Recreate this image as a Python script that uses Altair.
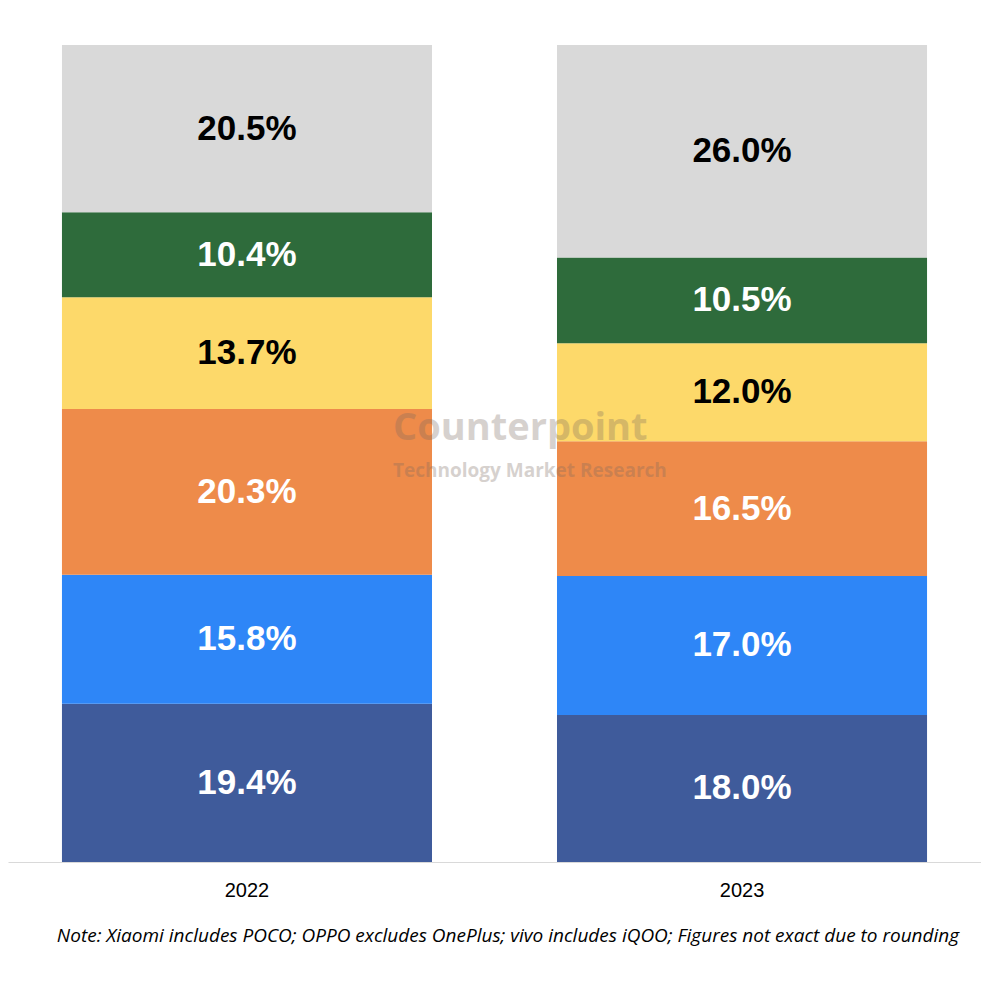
import altair as alt
import pandas as pd

years = ["2022", "2023"]
brands = ["Samsung", "Xiaomi", "vivo", "OPPO", "realme", "Others"]
share_2022 = [19.4, 15.8, 20.3, 13.7, 10.4, 20.5]
share_2023 = [18.0, 17.0, 16.5, 12.0, 10.5, 26.0]
colors = ["#3F5B9B", "#2E86F7", "#EE8B4A", "#FDD96A", "#2E6B3B", "#D9D9D9"]
text_colors = ["white", "white", "white", "black", "white", "black"]

rows = []
for year, vals in zip(years, [share_2022, share_2023]):
    for i, (b, v) in enumerate(zip(brands, vals)):
        rows.append({"year": year, "brand": b, "share": v, "order": i,
                     "label": f"{v:.1f}%", "tcolor": text_colors[i]})
df = pd.DataFrame(rows)

W, H = 973, 817

base = alt.Chart(df).transform_stack(
    stack="share", groupby=["year"], as_=["y0", "y1"],
    sort=[alt.SortField("order", order="ascending")], offset="normalize"
).transform_calculate(mid="(datum.y0 + datum.y1) / 2")

x = alt.X("year:N", title=None, scale=alt.Scale(paddingInner=0.2525, paddingOuter=0.109),
          axis=alt.Axis(labelAngle=0, labelFont="Liberation Sans", labelFontSize=20,
                        labelColor="#000", labelPadding=18, domainColor="#D9D9D9", ticks=False))

bars = base.mark_bar().encode(
    x=x,
    y=alt.Y("y0:Q", scale=alt.Scale(domain=[0, 1]), axis=None),
    y2="y1:Q",
    color=alt.Color("brand:N", scale=alt.Scale(domain=brands, range=colors), legend=None),
)

labels = base.mark_text(font="Liberation Sans", fontSize=35, fontWeight="bold").encode(
    x=x,
    y=alt.Y("mid:Q", scale=alt.Scale(domain=[0, 1]), axis=None),
    text="label:N",
    color=alt.Color("tcolor:N", scale=None),
)

note = alt.Chart(pd.DataFrame({"t": ["Note: Xiaomi includes POCO; OPPO excludes OnePlus; vivo includes iQOO; Figures not exact due to rounding"]})).mark_text(
    font="Open Sans", fontSize=19, fontStyle="italic", color="#000"
).encode(x=alt.value(500), y=alt.value(H + 74), text="t:N")

watermark = alt.Chart(pd.DataFrame({"t": ["Counterpoint", "Technology Market Research"], "yy": [H * 0.47, H * 0.522], "fs": [38, 19]})).mark_text(
    font="Open Sans", fontWeight="bold", color="#7a6a60", opacity=0.3, align="left"
).encode(x=alt.value(385), y=alt.Y("yy:Q", scale=None),
         text="t:N", size=alt.Size("fs:Q", scale=None, legend=None))

chart = (bars + labels + note + watermark).properties(
    width=W, height=H, padding={"left": 0, "top": 37, "right": 0, "bottom": 90},
    background="white"
).configure_view(strokeWidth=0, stroke=None)

chart.save("out.html", embed_options={"renderer": "svg", "actions": False})
